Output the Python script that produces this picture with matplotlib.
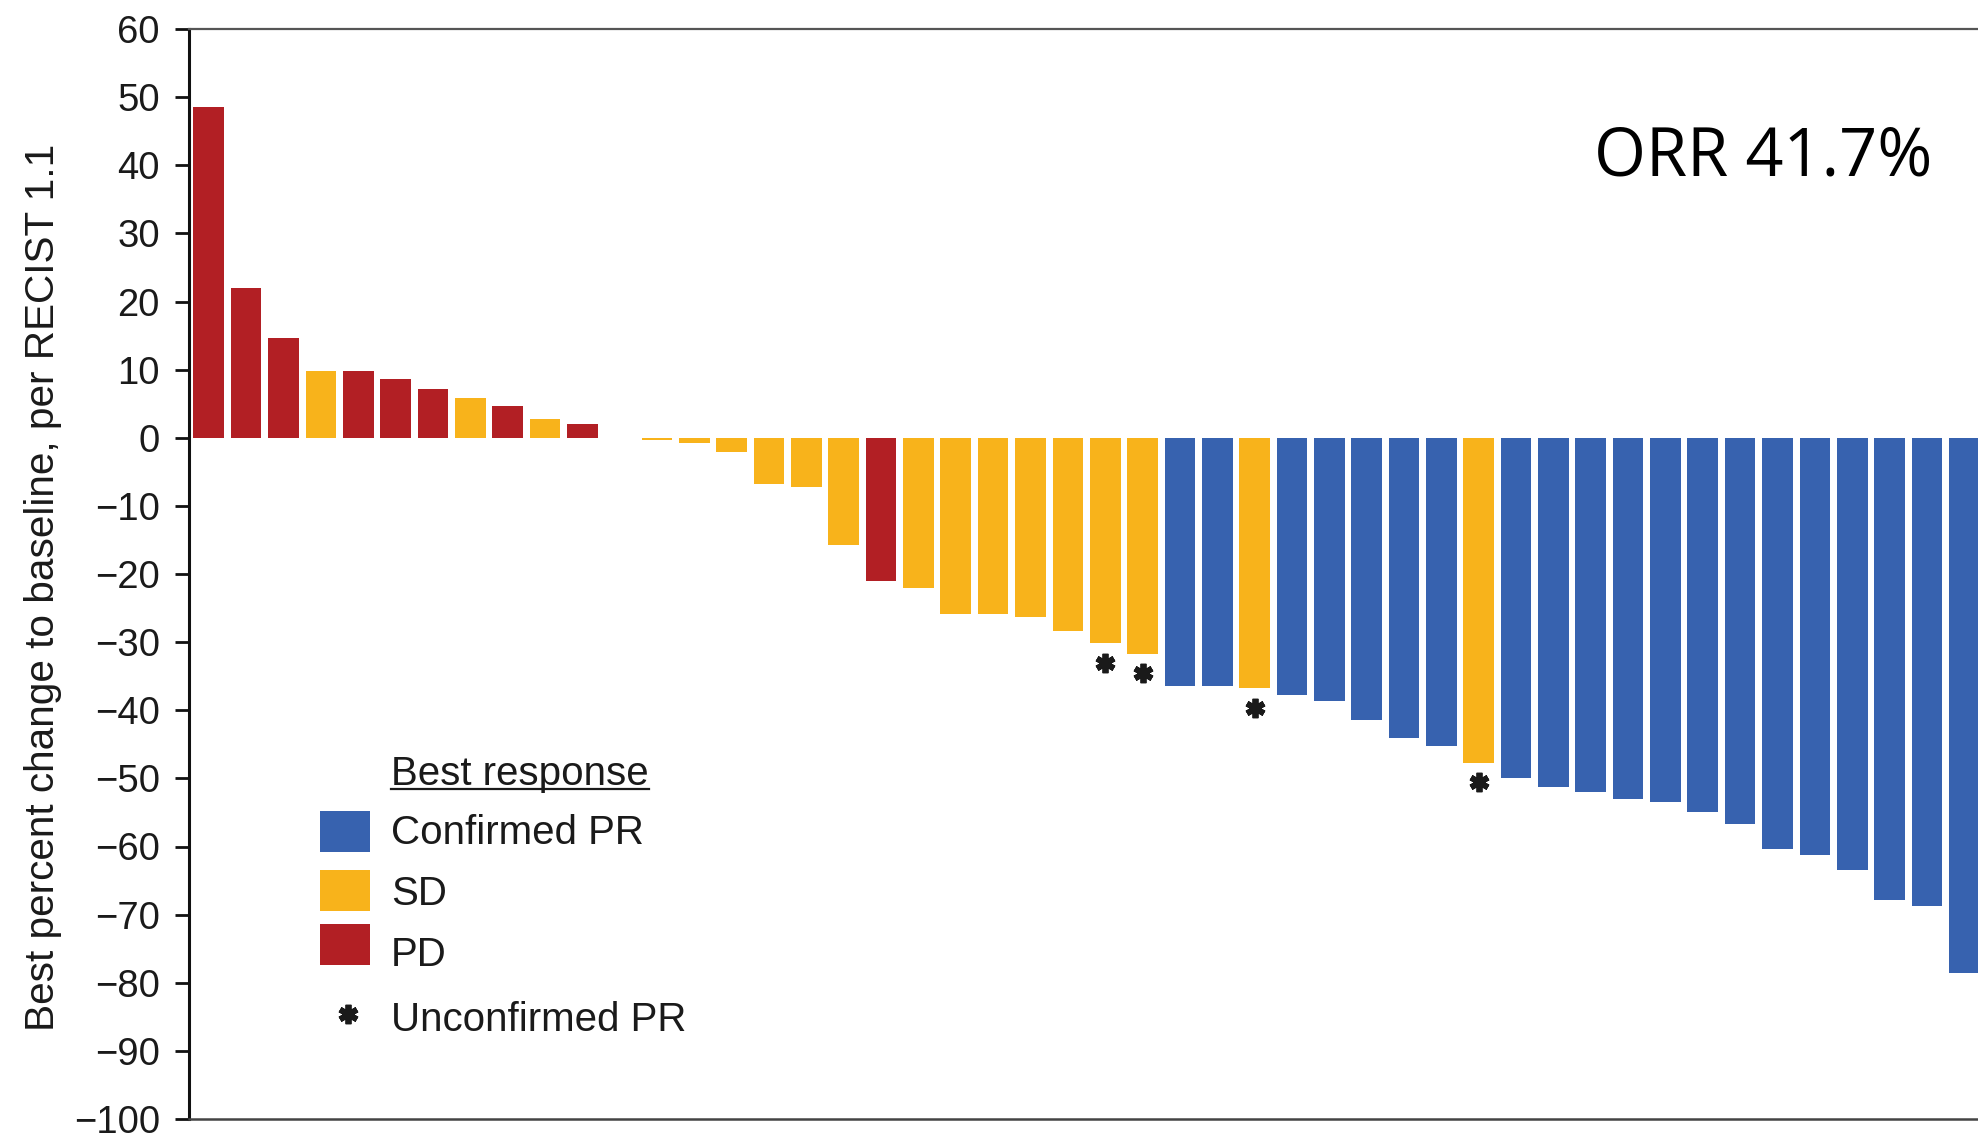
import matplotlib
matplotlib.use("Agg")
import matplotlib.pyplot as plt
from matplotlib.patches import Rectangle
from matplotlib.lines import Line2D

# Best percent change from baseline per patient (waterfall order)
values = [48.5, 22.0, 14.7, 9.8, 9.8, 8.6, 7.1, 5.8, 4.7, 2.8, 2.0,
          0.0, -0.3, -0.8, -2.1, -6.8, -7.3, -15.7, -21.0, -22.0, -25.9, -25.9,
          -26.3, -28.4, -30.2, -31.8, -36.4, -36.4, -36.8, -37.8, -38.7, -41.4,
          -44.1, -45.2, -47.7, -50.0, -51.3, -52.0, -53.0, -53.5, -55.0, -56.7,
          -60.3, -61.3, -63.5, -67.8, -68.8, -78.5]

# Best response category per patient
responses = ["PD", "PD", "PD", "SD", "PD", "PD", "PD", "SD", "PD", "SD", "PD",
             "SD", "SD", "SD", "SD", "SD", "SD", "SD", "PD", "SD", "SD", "SD",
             "SD", "SD", "SD", "SD", "PR", "PR", "SD", "PR", "PR", "PR",
             "PR", "PR", "SD", "PR", "PR", "PR", "PR", "PR", "PR", "PR",
             "PR", "PR", "PR", "PR", "PR", "PR"]

# Patients with an unconfirmed partial response
unconfirmed = [24, 25, 28, 34]

legend_labels = ["Confirmed PR", "SD", "PD"]
legend_keys = ["PR", "SD", "PD"]
yticks = list(range(-100, 61, 10))

n_pr = responses.count("PR")
orr_text = f"ORR {100 * n_pr / len(values):.1f}%"

colors = {"PR": "#3762AF", "SD": "#F8B31B", "PD": "#B21F24"}

plt.rcParams["font.family"] = ["Liberation Sans", "DejaVu Sans"]

W, H = 1978, 1141
AX_LEFT, AX_TOP, AX_BOTTOM = 189, 29, 1119
fig = plt.figure(figsize=(W / 100, H / 100), dpi=100)
ax = fig.add_axes([AX_LEFT / W, (H - AX_BOTTOM) / H, 1792.8 / W,
                   (AX_BOTTOM - AX_TOP) / H])


def fx(px):
    return px / W


def fy(py):
    return 1 - py / H


xs = list(range(len(values)))
ax.bar(xs, values, width=0.82, color=[colors[r] for r in responses],
       edgecolor="none", zorder=2)

star_marker = (6, 2, 0)
star_style = dict(ls="none", marker=star_marker, ms=14, mew=4.2, color="#1a1a1a")
ax.plot([xs[i] for i in unconfirmed], [values[i] - 2.8 for i in unconfirmed],
        zorder=3, **star_style)

ax.set_xlim(-0.53, len(values) - 0.53)
ax.set_ylim(-100, 60)
ax.set_yticks(yticks)
ax.set_xticks([])

ax.spines["right"].set_visible(False)
ax.spines["top"].set_color("#555555")
ax.spines["top"].set_linewidth(1.6)
ax.spines["bottom"].set_color("#444444")
ax.spines["bottom"].set_linewidth(1.8)
ax.spines["left"].set_color("#111111")
ax.spines["left"].set_linewidth(2.2)

ax.tick_params(axis="y", length=10, width=2, pad=11, labelsize=27.5,
               color="#111111", labelcolor="#1a1a1a")

ax.set_ylabel("Best percent change to baseline, per RECIST 1.1",
              fontsize=29.2, color="#1a1a1a")
ax.yaxis.set_label_coords(-0.0708, 0.4877)

# Response rate annotation
fig.text(fx(1594), fy(175), orr_text, fontsize=48,
         family=["Open Sans", "DejaVu Sans"],
         ha="left", va="baseline", color="black")

# Legend drawn by hand
LEG_FS = 29
title = fig.text(fx(391), fy(785), "Best response", fontsize=LEG_FS,
                 ha="left", va="baseline", color="#1a1a1a")
patch_centers = [831, 890.5, 944]
text_baselines = [844, 905, 966]
for key, label, cy, base in zip(legend_keys, legend_labels,
                                 patch_centers, text_baselines):
    fig.add_artist(Rectangle((fx(320), fy(cy + 20.5)), 50 / W, 41 / H,
                             transform=fig.transFigure,
                             facecolor=colors[key], edgecolor="none"))
    fig.text(fx(391), fy(base), label, fontsize=LEG_FS, ha="left",
             va="baseline", color="#1a1a1a")

fig.add_artist(Line2D([fx(348)], [fy(1014)], transform=fig.transFigure,
                      **star_style))
fig.text(fx(391), fy(1031), "Unconfirmed PR", fontsize=LEG_FS, ha="left",
         va="baseline", color="#1a1a1a")

renderer = fig.canvas.get_renderer()
bb = title.get_window_extent(renderer=renderer)
fig.add_artist(Line2D([bb.x0 / W, bb.x1 / W], [fy(789), fy(789)],
                      transform=fig.transFigure, color="#1a1a1a", lw=1.6))

fig.savefig("out.png", dpi=100)
